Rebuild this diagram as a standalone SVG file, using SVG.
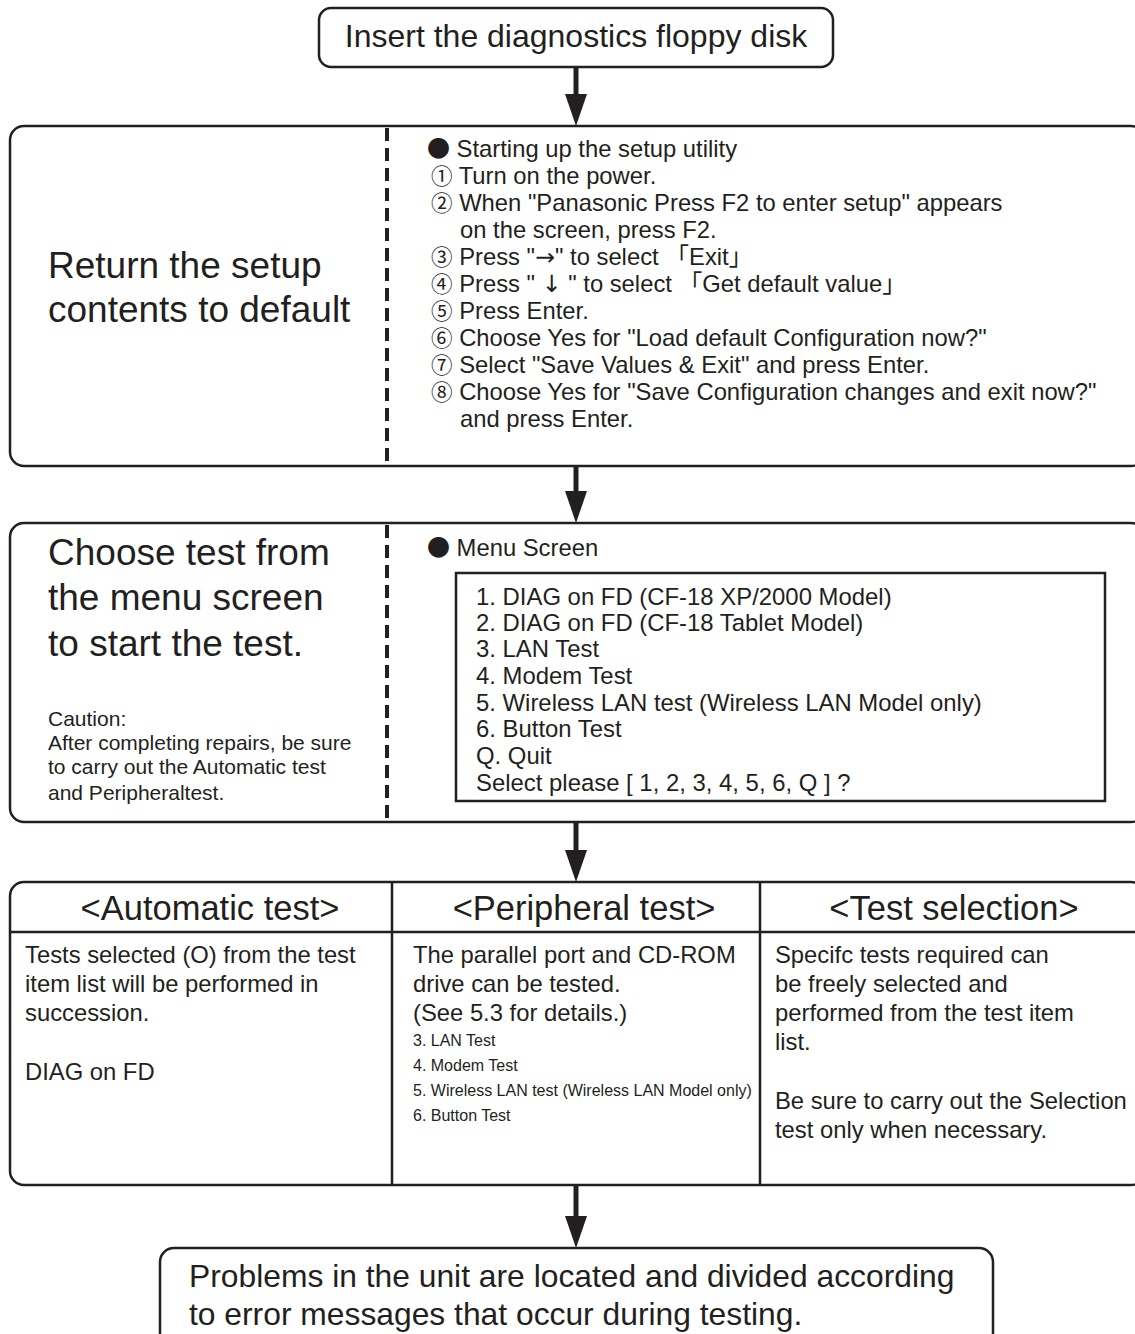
<svg xmlns="http://www.w3.org/2000/svg" width="1135" height="1334" viewBox="0 0 1135 1334">
<style>
  text { font-family: "Liberation Sans", Arial, "Noto Sans CJK JP", sans-serif; fill: #231f20; }
  .box { fill: #ffffff; stroke: #231f20; stroke-width: 2.5; }
  .inner { fill: none; stroke: #231f20; stroke-width: 2.5; }
  .dash { stroke: #231f20; stroke-width: 4; stroke-dasharray: 13 7; fill: none; }
  .div { stroke: #231f20; stroke-width: 2.5; fill: none; }
  .conn { stroke: #231f20; stroke-width: 5; fill: none; marker-end: url(#ah); }
  .title { font-size: 32px; }
  .big { font-size: 37px; }
  .body { font-size: 23.8px; }
  .head { font-size: 34.5px; }
  .small { font-size: 16px; }
  .caution { font-size: 21px; }
  .menu { font-size: 23.9px; }
  .final { font-size: 31.8px; }
  .sym { font-family: "Noto Sans CJK JP", "DejaVu Sans", sans-serif; font-size: 21.5px; }
  .dot { font-family: "Noto Sans CJK JP", "DejaVu Sans", sans-serif; font-size: 23px; }
  .arr { font-family: "DejaVu Sans", sans-serif; }
</style>
<defs>
  <marker id="ah" viewBox="0 0 32 22" markerWidth="32" markerHeight="22" refX="24" refY="11" orient="auto" markerUnits="userSpaceOnUse">
    <path d="M0,0 L32,11 L0,22 Z" fill="#231f20"/>
  </marker>
</defs>
<rect width="1135" height="1334" fill="#ffffff"/>

<g id="connectors">
  <line class="conn" x1="576" y1="67" x2="576" y2="118"/>
  <line class="conn" x1="576" y1="466" x2="576" y2="515"/>
  <line class="conn" x1="576" y1="822" x2="576" y2="874"/>
  <line class="conn" x1="576" y1="1185" x2="576" y2="1240"/>
</g>

<g id="node-insert">
  <rect class="box" x="319" y="8" width="514" height="59" rx="12"/>
  <text class="title" x="576" y="47" text-anchor="middle">Insert the diagnostics floppy disk</text>
</g>

<g id="node-setup">
  <rect class="box" x="10" y="126" width="1135" height="340" rx="14"/>
  <line class="dash" x1="387" y1="128" x2="387" y2="465"/>
  <text class="big" x="48" y="278">Return the setup</text>
  <text class="big" x="48" y="322">contents to default</text>
  <text class="body" x="427" y="157"><tspan class="dot">●</tspan><tspan> Starting up the setup utility</tspan></text>
  <text class="body" x="431" y="184"><tspan class="sym">①</tspan><tspan> Turn on the power.</tspan></text>
  <text class="body" x="431" y="211"><tspan class="sym">②</tspan><tspan> When "Panasonic Press F2 to enter setup" appears</tspan></text>
  <text class="body" x="460" y="238">on the screen, press F2.</text>
  <text class="body" x="431" y="265"><tspan class="sym">③</tspan><tspan> Press "</tspan><tspan class="arr">→</tspan><tspan>" to select 「Exit」</tspan></text>
  <text class="body" x="431" y="292"><tspan class="sym">④</tspan><tspan> Press " </tspan><tspan class="arr">↓</tspan><tspan> " to select 「Get default value」</tspan></text>
  <text class="body" x="431" y="319"><tspan class="sym">⑤</tspan><tspan> Press Enter.</tspan></text>
  <text class="body" x="431" y="346"><tspan class="sym">⑥</tspan><tspan> Choose Yes for "Load default Configuration now?"</tspan></text>
  <text class="body" x="431" y="373"><tspan class="sym">⑦</tspan><tspan> Select "Save Values &amp; Exit" and press Enter.</tspan></text>
  <text class="body" x="431" y="400"><tspan class="sym">⑧</tspan><tspan> Choose Yes for "Save Configuration changes and exit now?"</tspan></text>
  <text class="body" x="460" y="427">and press Enter.</text>
</g>

<g id="node-menu">
  <rect class="box" x="10" y="523" width="1135" height="299" rx="14"/>
  <line class="dash" x1="387" y1="525" x2="387" y2="821"/>
  <text class="big" x="48" y="565">Choose test from</text>
  <text class="big" x="48" y="610">the menu screen</text>
  <text class="big" x="48" y="656">to start the test.</text>
  <text class="caution" x="48" y="726">Caution:</text>
  <text class="caution" x="48" y="750">After completing repairs, be sure</text>
  <text class="caution" x="48" y="774">to carry out the Automatic test</text>
  <text class="caution" x="48" y="800">and Peripheraltest.</text>
  <text class="body" x="427" y="556"><tspan class="dot">●</tspan><tspan> Menu Screen</tspan></text>
  <rect class="inner" x="456" y="573" width="649" height="228"/>
  <text class="menu" x="476" y="605">1. DIAG on FD (CF-18 XP/2000 Model)</text>
  <text class="menu" x="476" y="631">2. DIAG on FD (CF-18 Tablet Model)</text>
  <text class="menu" x="476" y="657">3. LAN Test</text>
  <text class="menu" x="476" y="684">4. Modem Test</text>
  <text class="menu" x="476" y="711">5. Wireless LAN test (Wireless LAN Model only)</text>
  <text class="menu" x="476" y="737">6. Button Test</text>
  <text class="menu" x="476" y="764">Q. Quit</text>
  <text class="menu" x="476" y="791">Select please [ 1, 2, 3, 4, 5, 6, Q ] ?</text>
</g>

<g id="node-tests">
  <rect class="box" x="10" y="882" width="1135" height="303" rx="14"/>
  <line class="div" x1="10" y1="932" x2="1145" y2="932"/>
  <line class="div" x1="392" y1="882" x2="392" y2="1185"/>
  <line class="div" x1="760" y1="882" x2="760" y2="1185"/>
  <text class="head" x="210" y="920" text-anchor="middle">&lt;Automatic test&gt;</text>
  <text class="head" x="584" y="920" text-anchor="middle">&lt;Peripheral test&gt;</text>
  <text class="head" x="954" y="920" text-anchor="middle">&lt;Test selection&gt;</text>

  <text class="body" x="25" y="963">Tests selected (O) from the test</text>
  <text class="body" x="25" y="992">item list will be performed in</text>
  <text class="body" x="25" y="1021">succession.</text>
  <text class="body" x="25" y="1080">DIAG on FD</text>

  <text class="body" x="413" y="963">The parallel port and CD-ROM</text>
  <text class="body" x="413" y="992">drive can be tested.</text>
  <text class="body" x="413" y="1021">(See 5.3 for details.)</text>
  <text class="small" x="413" y="1046">3. LAN Test</text>
  <text class="small" x="413" y="1071">4. Modem Test</text>
  <text class="small" x="413" y="1096">5. Wireless LAN test (Wireless LAN Model only)</text>
  <text class="small" x="413" y="1121">6. Button Test</text>

  <text class="body" x="775" y="963">Specifc tests required can</text>
  <text class="body" x="775" y="992">be freely selected and</text>
  <text class="body" x="775" y="1021">performed from the test item</text>
  <text class="body" x="775" y="1050">list.</text>
  <text class="body" x="775" y="1109">Be sure to carry out the Selection</text>
  <text class="body" x="775" y="1138">test only when necessary.</text>
</g>

<g id="node-result">
  <rect class="box" x="160" y="1248" width="833" height="110" rx="14"/>
  <text class="final" x="189" y="1287">Problems in the unit are located and divided according</text>
  <text class="final" x="189" y="1325">to error messages that occur during testing.</text>
</g>
</svg>
